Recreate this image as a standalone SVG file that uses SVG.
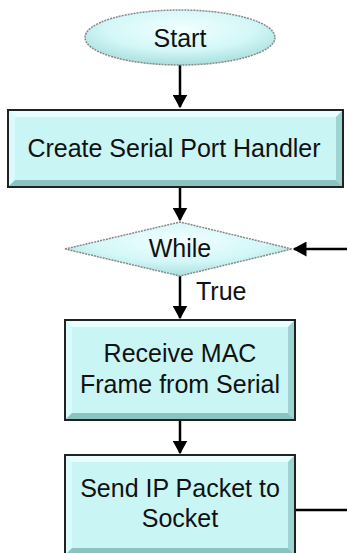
<svg xmlns="http://www.w3.org/2000/svg" width="347" height="553" viewBox="0 0 347 553">
<style>
.t{font-family:"Liberation Sans",Arial,sans-serif;font-size:25px;fill:#111;text-anchor:middle}
.c{stroke:#000;stroke-width:2.5;fill:none}
.box{fill:#c9f5f5;stroke:#222;stroke-width:2}
.hl{fill:#e8ffff}
.hl2{fill:#d9fbfb}
.sh{fill:#9fd2d2}
.sh2{fill:#8bc2c2}
.term{fill:url(#g1);stroke:#888;stroke-width:1.5;stroke-dasharray:2 1}
</style>
<defs>
<radialGradient id="g1" cx="0.5" cy="0.35" r="0.65">
<stop offset="0" stop-color="#f2ffff"/>
<stop offset="0.6" stop-color="#d3f7f7"/>
<stop offset="1" stop-color="#a9dede"/>
</radialGradient>
<marker id="ah" markerWidth="6" markerHeight="6" refX="5" refY="3" orient="auto" markerUnits="strokeWidth">
<path d="M0,0 L5.5,3 L0,6 Z" fill="#000"/>
</marker>
</defs>
<g id="connectors">
<path class="c" d="M180,65 V107" marker-end="url(#ah)"/>
<path class="c" d="M180,187 V220" marker-end="url(#ah)"/>
<path class="c" d="M180,276 V318" marker-end="url(#ah)"/>
<path class="c" d="M180,420 V453" marker-end="url(#ah)"/>
<path class="c" d="M296,510 H350 V249 H294" marker-end="url(#ah)"/>
<text class="t" x="196" y="300" style="text-anchor:start">True</text>
</g>
<g id="start">
<ellipse class="term" cx="180" cy="37.5" rx="95" ry="27.5"/>
<text class="t" x="180" y="47">Start</text>
</g>
<g id="create">
<rect class="box" x="8" y="110" width="335" height="77"/>
<polygon class="hl" points="9,111 342,111 336,117 15,117"/>
<polygon class="hl2" points="9,111 15,117 15,180 9,186"/>
<polygon class="sh" points="342,111 342,186 336,180 336,117"/>
<polygon class="sh2" points="9,186 342,186 336,180 15,180"/>
<text class="t" x="174" y="157">Create Serial Port Handler</text>
</g>
<g id="while">
<polygon points="65,249 180,222 292,249 180,276" fill="url(#g1)" stroke="#888" stroke-width="1.5" stroke-dasharray="2 1"/>
<text class="t" x="180" y="257">While</text>
</g>
<g id="receive">
<rect class="box" x="65" y="320" width="230" height="100"/>
<polygon class="hl" points="66,321 294,321 288,327 72,327"/>
<polygon class="hl2" points="66,321 72,327 72,413 66,419"/>
<polygon class="sh" points="294,321 294,419 288,413 288,327"/>
<polygon class="sh2" points="66,419 294,419 288,413 72,413"/>
<text class="t" x="180" y="362">Receive MAC</text>
<text class="t" x="180" y="393">Frame from Serial</text>
</g>
<g id="send">
<rect class="box" x="65" y="455" width="230" height="100"/>
<polygon class="hl" points="66,456 294,456 288,462 72,462"/>
<polygon class="hl2" points="66,456 72,462 72,548 66,554"/>
<polygon class="sh" points="294,456 294,554 288,548 288,462"/>
<polygon class="sh2" points="66,554 294,554 288,548 72,548"/>
<text class="t" x="180" y="497">Send IP Packet to</text>
<text class="t" x="180" y="527">Socket</text>
</g>
</svg>
